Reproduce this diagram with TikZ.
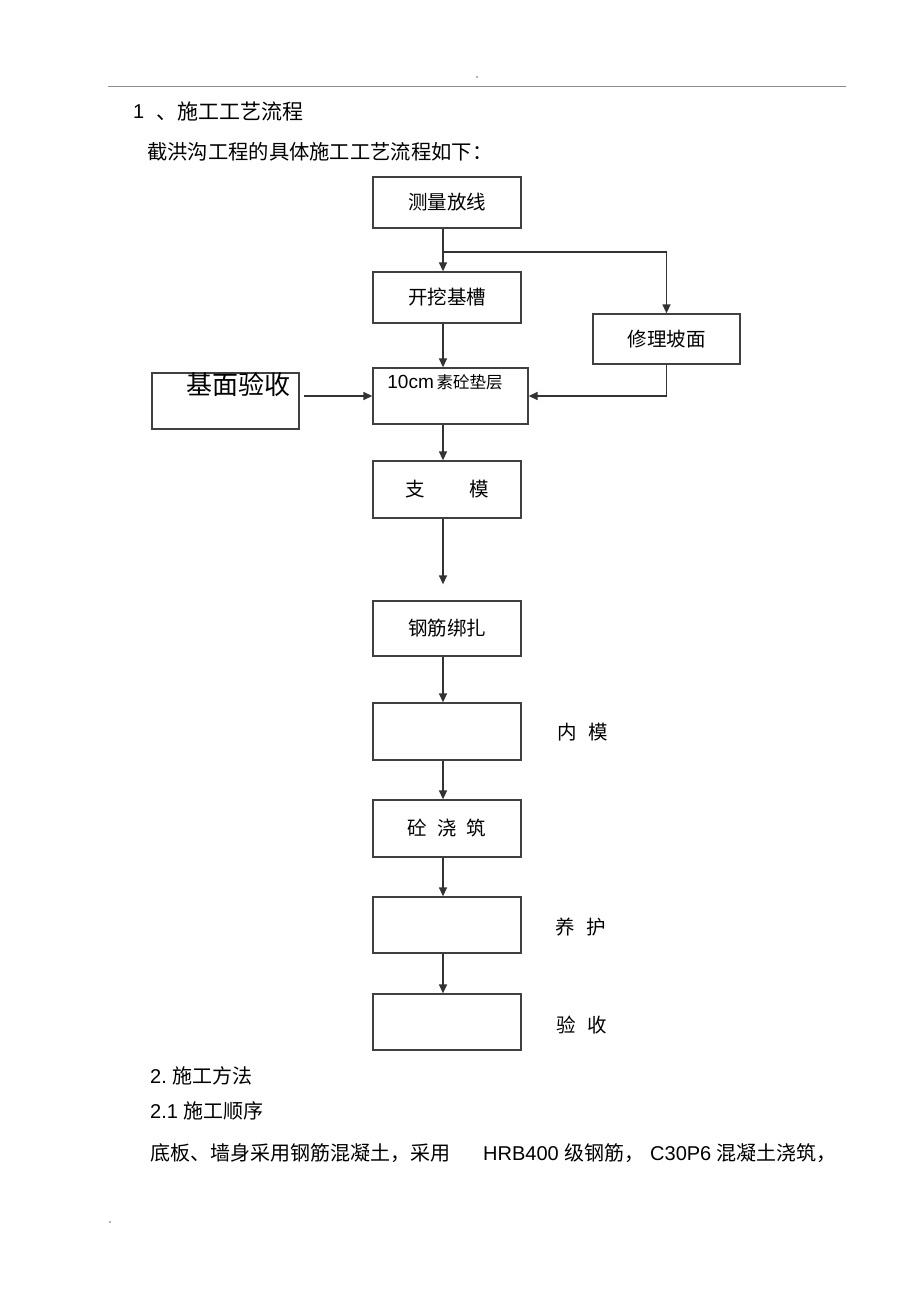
\documentclass[tikz,border=0pt]{standalone}
\usepackage{fontspec}
\setmainfont{Liberation Sans}
\newfontfamily\cjk{Noto Sans CJK SC}
\usetikzlibrary{arrows.meta}
\begin{document}
\begin{tikzpicture}[x=1pt,y=-1pt,
  box/.style={draw=black!75, line width=1.3pt, minimum width=148pt, inner sep=0pt,
    font=\cjk\fontsize{19.5}{22}\selectfont},
  arr/.style={draw=black!80, line width=1.3pt, -{Triangle[length=9pt,width=8pt]}},
  txt/.style={inner sep=0pt, anchor=west, font=\fontsize{20}{24}\selectfont},
  lab/.style={inner sep=0pt, font=\cjk\fontsize{19.5}{22}\selectfont}]
\path[fill=white] (0,0) rectangle (920,1304);
\useasboundingbox (0,0) rectangle (920,1304);
% header rule and dots
\draw[black!45, line width=0.8pt] (108,86) -- (846,86);
\fill[black!60] (477,77) circle (0.8);
\fill[black!60] (110,1222) circle (0.8);
% heading texts
\node[txt] (h1) at (133,112) {1};
\node[txt, font=\cjk\fontsize{21}{24}\selectfont] (h1b) at (156,112) {、施工工艺流程};
\node[txt, font=\cjk\fontsize{20.3}{24}\selectfont] (h2) at (147,152) {截洪沟工程的具体施工工艺流程如下：};
% boxes
\node[box, minimum height=51pt] (A) at (447,202.5) {测量放线};
\node[box, minimum height=51pt] (B) at (447,297.5) {开挖基槽};
\node[box, minimum width=147pt, minimum height=50pt] (C) at (666.5,339) {修理坡面};
\node[box, minimum width=155pt, minimum height=56pt] (D) at (450.5,396) {};
\node[inner sep=0pt] (Dt) at (445,382) {{\fontsize{19}{22}\selectfont 10cm} {\cjk\fontsize{16.5}{20}\selectfont 素砼垫层}};
\node[box, minimum width=147pt, minimum height=56pt] (E) at (225.5,401) {};
\node[inner sep=0pt, font=\cjk\fontsize{26}{30}\selectfont] (Et) at (238,385) {基面验收};
\node[box, minimum height=57pt] (F) at (447,489.5) {支\hspace{45pt}模};
\node[box, minimum height=55pt] (G) at (447,628.5) {钢筋绑扎};
\node[box, minimum height=57pt] (H) at (447,731.5) {};
\node[box, minimum height=57pt] (I) at (447,828.5) {砼\hspace{10pt}浇\hspace{10pt}筑};
\node[box, minimum height=56pt] (J) at (447,925) {};
\node[box, minimum height=56pt] (K) at (447,1022) {};
% side labels
\node[lab] (Hl) at (583,732) {内\hspace{12pt}模};
\node[lab] (Jl) at (581,927) {养\hspace{12pt}护};
\node[lab] (Kl) at (582,1025) {验\hspace{12pt}收};
% connectors
\coordinate (br) at (443,252);
\coordinate (Eo) at ([xshift=4pt]E.east);
\draw[arr] ([xshift=-4pt]A.south) -- ([xshift=-4pt]B.north);
\draw[arr] (br) -| (C.north);
\draw[arr] ([xshift=-4pt]B.south) -- ([xshift=-7.5pt]D.north);
\draw[arr] (C.south) |- (D.east);
\draw[arr] (Eo |- D.west) -- (D.west);
\draw[arr] ([xshift=-7.5pt]D.south) -- ([xshift=-4pt]F.north);
\draw[arr] ([xshift=-4pt]F.south) -- ([xshift=-4pt,yshift=16pt]G.north);
\draw[arr] ([xshift=-4pt]G.south) -- ([xshift=-4pt]H.north);
\draw[arr] ([xshift=-4pt]H.south) -- ([xshift=-4pt]I.north);
\draw[arr] ([xshift=-4pt]I.south) -- ([xshift=-4pt]J.north);
\draw[arr] ([xshift=-4pt]J.south) -- ([xshift=-4pt]K.north);
% section texts
\node[txt] (s2) at (150,1076) {2.\ {\cjk 施工方法}};
\node[txt] (s21) at (150,1111) {2.1 {\cjk 施工顺序}};
\node[txt, font=\cjk\fontsize{20}{24}\selectfont] (p1) at (150,1153) {底板、墙身采用钢筋混凝土，采用};
\node[txt] (p2) at (483,1153) {HRB400 {\cjk 级钢筋，}};
\node[txt] (p3) at (650,1153) {C30P6 {\cjk 混凝土浇筑，}};
\end{tikzpicture}
\end{document}
